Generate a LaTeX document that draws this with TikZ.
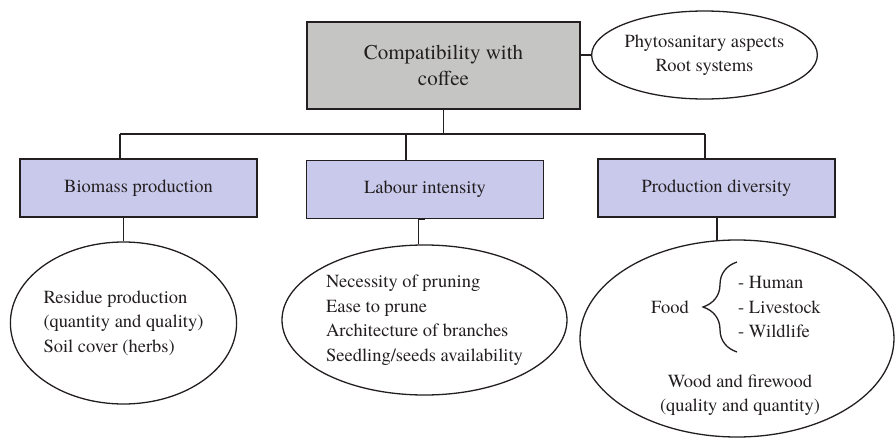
\documentclass[tikz,border=0pt]{standalone}
\usepackage{fontspec}
\setmainfont{TeX Gyre Termes}
\usepackage{tikz}
\usetikzlibrary{shapes.geometric, positioning, calc, decorations.pathreplacing}
\definecolor{ink}{RGB}{35,31,32}
\definecolor{boxgray}{RGB}{197,198,196}
\definecolor{lavender}{RGB}{201,201,236}
\newcommand{\mainsize}{\fontsize{18.5}{24.5}\selectfont}
\tikzstyle{topbox} = [rectangle, draw=ink, fill=boxgray, line width=1.3pt, minimum width=273pt, minimum height=87pt, align=center, text=ink, font=\fontsize{21}{26}\selectfont]
\tikzstyle{subbox} = [rectangle, draw=ink, fill=lavender, line width=1.3pt, minimum width=237pt, minimum height=58pt, text=ink, font=\mainsize]
\tikzstyle{oval} = [ellipse, draw=ink, line width=1.3pt, inner sep=0pt, text=ink, font=\mainsize]
\tikzstyle{txt} = [inner sep=0pt, text=ink, font=\mainsize]
\tikzstyle{line} = [draw=ink, line width=1.3pt]

\begin{document}
\begin{tikzpicture}[x=1pt, y=-1pt]
\useasboundingbox (0,0) rectangle (895,439);

\node (top) [topbox] at (443.5,65.5) {Compatibility with\\coffee};
\node (phyto) [oval, minimum width=225pt, minimum height=88pt, align=center] at (704.5,55) {Phytosanitary aspects\\Root systems};

\node (bio) [subbox] at (138.5,188) {Biomass production};
\node (lab) [subbox] at (425,189.5) {Labour intensity};
\node (prod) [subbox] at (716.5,188) {Production diversity};

\node (bioE) [oval, minimum width=223pt, minimum height=162pt, align=left] at (123.5,323) {Residue production\\(quantity and quality)\\Soil cover (herbs)};
\node (labE) [oval, minimum width=285pt, minimum height=150pt, align=left] at (424.5,320) {Necessity of pruning\\Ease to prune\\Architecture of branches\\Seedling/seeds availability};
\node (prodE) [oval, minimum width=314pt, minimum height=197pt] at (737,338.5) {};

% contents of the production ellipse
\node (food) [txt] at (670,307) {Food};
\node (uses) [txt, anchor=west, align=left] at (738,307) {- Human\\- Livestock\\- Wildlife};
\node (wood) [txt, align=center] at (740,395) {Wood and firewood\\(quality and quantity)};
\coordinate (braceB) at (737,352);
\coordinate (braceT) at (737,262);
\draw [line, decorate, decoration={brace, amplitude=34pt}] (braceB) -- (braceT);

% connectors
\coordinate (barL) at (120,134);
\coordinate (barM) at (406,134);
\coordinate (barR) at (705,134);
\draw [line] (barL) -- (barR);
\draw [line] (top.south) -- (top.south |- barL);
\draw [line] (top.east |- phyto.west) -- (phyto.west);
\draw [line] (barL) -- (barL |- bio.north);
\draw [line] (barM) -- (barM |- lab.north);
\draw [line] (barR) -- (barR |- prod.north);
\draw [line] (bioE.north |- bio.south) -- (bioE.north);
\draw [line] ($(labE.north)+(-6,0)$) |- (lab.south);
\draw [line] ($(prodE.north)+(-20,1)$) |- (prod.south);
\end{tikzpicture}
\end{document}
